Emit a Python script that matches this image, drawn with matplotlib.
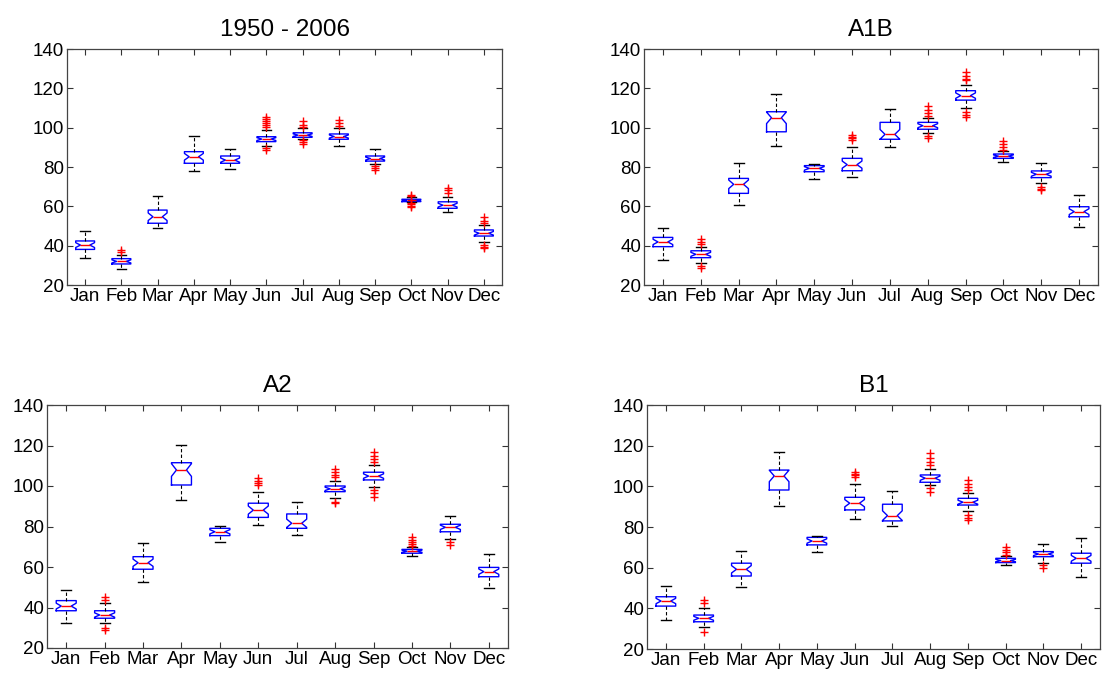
import numpy as np
import matplotlib
matplotlib.use('Agg')
import matplotlib.pyplot as plt

plt.rcParams['font.family'] = ['Liberation Sans', 'DejaVu Sans']

months = ['Jan', 'Feb', 'Mar', 'Apr', 'May', 'Jun',
          'Jul', 'Aug', 'Sep', 'Oct', 'Nov', 'Dec']
titles = ['1950 - 2006', 'A1B', 'A2', 'B1']

# 1950 - 2006
obs_q1 = [38.1, 30.7, 51.4, 81.9, 81.9, 92.9, 95.1, 94.1, 83.0, 62.4, 59.0, 44.9]
obs_med = [40.3, 32.0, 54.7, 85.2, 83.5, 94.2, 96.2, 95.5, 84.3, 63.0, 60.6, 46.3]
obs_q3 = [42.4, 33.4, 58.1, 87.8, 85.6, 95.4, 97.4, 96.8, 85.6, 63.6, 62.3, 48.0]
obs_lo = [33.9, 28.0, 49.0, 78.0, 79.0, 90.7, 94.0, 90.7, 81.5, 62.0, 57.3, 42.0]
obs_hi = [47.6, 35.2, 65.4, 95.9, 89.3, 98.8, 99.8, 99.8, 89.0, 64.5, 64.9, 50.5]
obs_out = [[], [37.0, 37.8], [], [], [],
           [100.5, 101.5, 102.5, 103.5, 104.5, 105.5, 89.5, 88.5],
           [100.5, 101.5, 103.5, 93.5, 92.5, 91.8],
           [101.0, 102.5, 104.0],
           [80.5, 79.5, 78.5],
           [65.2, 65.8, 61.5, 61.0, 60.3, 59.8],
           [66.8, 68.5, 69.5],
           [51.5, 52.5, 54.5, 40.5, 39.5, 38.8]]

# A1B
a1b_q1 = [39.5, 33.9, 66.6, 97.9, 77.6, 78.1, 94.1, 99.2, 114.0, 84.4, 74.6, 54.7]
a1b_med = [41.9, 35.6, 71.2, 105.0, 79.3, 81.2, 96.6, 101.0, 116.3, 85.5, 76.3, 57.3]
a1b_q3 = [44.2, 37.4, 74.2, 108.1, 80.7, 84.4, 102.7, 102.7, 118.8, 86.6, 78.0, 59.8]
a1b_lo = [32.7, 31.0, 60.7, 90.7, 73.7, 75.0, 90.3, 97.1, 109.8, 82.7, 72.0, 49.6]
a1b_hi = [49.1, 39.5, 82.2, 117.0, 81.5, 90.3, 109.5, 105.0, 121.5, 88.0, 81.9, 65.8]
a1b_out = [[], [40.8, 42.0, 43.4, 28.5, 29.5], [], [], [],
           [93.7, 94.5, 95.3, 96.3],
           [],
           [106.0, 107.5, 109.0, 111.0, 94.5, 96.0],
           [124.0, 125.0, 126.5, 128.5, 108.1, 106.5, 105.6],
           [88.6, 90.0, 91.5, 93.2],
           [70.0, 69.0, 68.3],
           []]

# A2
a2_q1 = [38.4, 34.7, 58.9, 100.5, 75.5, 84.5, 79.1, 97.2, 103.0, 66.8, 77.4, 55.2]
a2_med = [40.7, 36.3, 62.1, 107.9, 77.4, 88.1, 81.6, 98.6, 104.9, 67.8, 79.6, 57.7]
a2_q3 = [43.4, 38.4, 65.1, 111.5, 79.1, 91.5, 86.2, 100.0, 106.8, 68.7, 81.1, 59.8]
a2_lo = [32.2, 32.3, 52.7, 93.1, 72.2, 80.7, 75.8, 94.0, 99.4, 65.4, 73.7, 49.5]
a2_hi = [48.6, 42.0, 71.7, 120.2, 80.2, 97.0, 92.3, 102.5, 110.4, 70.0, 85.2, 66.4]
a2_out = [[], [43.7, 45.3, 28.9, 29.7], [], [], [],
          [100.5, 101.5, 102.5, 104.0],
          [],
          [104.3, 105.5, 107.0, 108.4, 92.3, 91.5],
          [112.0, 113.5, 115.0, 117.0, 98.0, 96.5, 94.7],
          [70.5, 71.5, 72.5, 73.5, 75.0],
          [72.5, 70.9],
          []]

# B1
b1_q1 = [41.1, 33.4, 55.9, 98.2, 71.2, 88.4, 83.0, 102.0, 90.8, 62.5, 65.4, 62.2]
b1_med = [43.6, 35.1, 59.2, 105.1, 73.1, 91.7, 85.6, 104.0, 92.2, 63.5, 66.7, 64.6]
b1_q3 = [45.7, 36.7, 62.2, 108.0, 74.9, 94.6, 91.2, 105.6, 94.1, 64.6, 67.9, 67.1]
b1_lo = [34.3, 31.0, 50.3, 90.3, 67.9, 83.8, 80.5, 100.7, 88.0, 61.3, 62.5, 55.6]
b1_hi = [51.0, 40.0, 68.4, 116.7, 75.6, 101.0, 97.7, 108.5, 96.6, 65.8, 71.6, 74.7]
b1_out = [[], [42.5, 44.1, 28.5], [], [], [],
          [104.5, 105.5, 106.3, 107.2],
          [],
          [110.5, 112.0, 114.0, 116.3, 97.4, 99.2],
          [98.2, 99.5, 101.0, 103.1, 86.0, 84.5, 83.5],
          [66.2, 67.5, 68.8, 70.3],
          [61.3, 59.7],
          []]

n_years = 30

panels = [
    (obs_q1, obs_med, obs_q3, obs_lo, obs_hi, obs_out),
    (a1b_q1, a1b_med, a1b_q3, a1b_lo, a1b_hi, a1b_out),
    (a2_q1, a2_med, a2_q3, a2_lo, a2_hi, a2_out),
    (b1_q1, b1_med, b1_q3, b1_lo, b1_hi, b1_out),
]

W, H = 1102, 674
# axes boxes in pixels: left, right, top, bottom
boxes = [(67, 502, 49, 285), (644, 1098, 49, 285),
         (47, 508, 405, 648), (647, 1100, 405, 649)]

fig = plt.figure(figsize=(W / 100, H / 100), dpi=100)

for (q1, med, q3, lo, hi, out), title, (l, r, t, b) in zip(panels, titles, boxes):
    ax = fig.add_axes([l / W, 1 - b / H, (r - l) / W, (b - t) / H])
    stats = []
    for i in range(12):
        iqr = q3[i] - q1[i]
        ci = 1.57 * iqr / np.sqrt(n_years)
        stats.append(dict(q1=q1[i], med=med[i], q3=q3[i],
                          whislo=lo[i], whishi=hi[i],
                          cilo=med[i] - ci, cihi=med[i] + ci,
                          fliers=np.array(out[i])))
    ax.bxp(stats, positions=range(1, 13), widths=0.52, shownotches=True,
           boxprops=dict(color='#0000ff', linewidth=1.0),
           medianprops=dict(color='#ff0000', linewidth=1.0),
           whiskerprops=dict(color='black', linewidth=0.8, linestyle=(0, (3, 2))),
           capprops=dict(color='black', linewidth=1.0),
           flierprops=dict(marker='+', markeredgecolor='#ff0000',
                           markersize=6, markeredgewidth=1.0, linestyle='none'))
    ax.set_xlim(0.5, 12.5)
    ax.set_ylim(20, 140)
    ax.set_yticks(range(20, 141, 20))
    ax.set_xticks(range(1, 13))
    ax.set_xticklabels(months)
    ax.tick_params(direction='in', top=True, right=True, length=4,
                   width=0.8, labelsize=13.5, pad=2, colors='#333333',
                   labelcolor='black')
    for s in ax.spines.values():
        s.set_color('#444444')
        s.set_linewidth(0.9)
    ax.set_title(title, fontsize=17.5, pad=9)

fig.savefig('out.png', dpi=100)
